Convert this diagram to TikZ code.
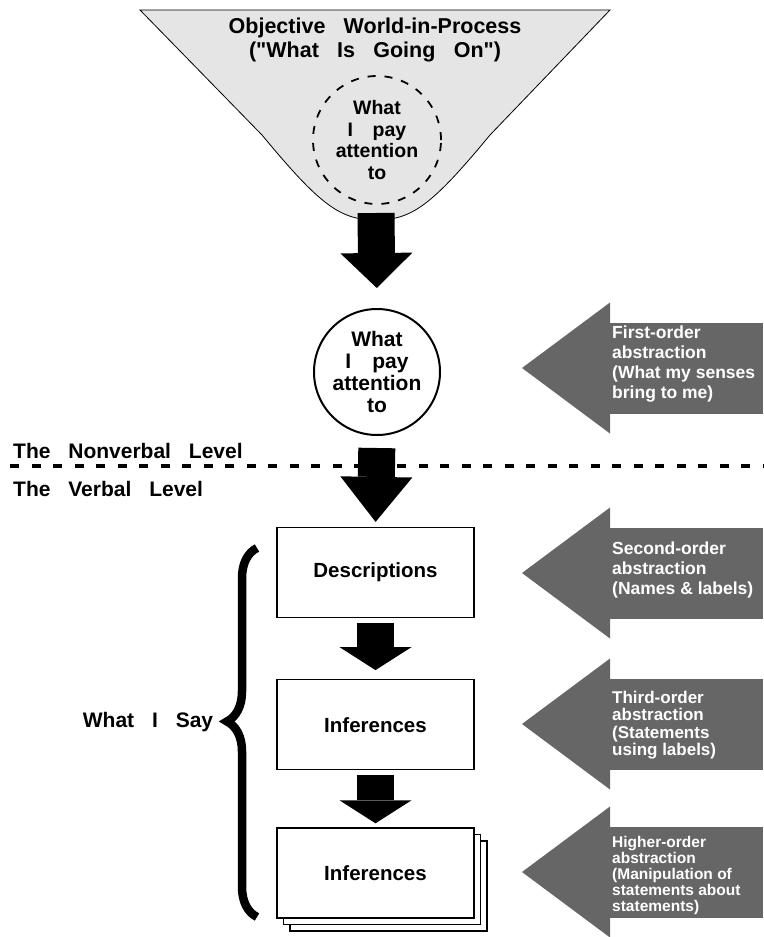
\documentclass[tikz,border=0pt]{standalone}
\usepackage{fontspec}
\setmainfont{Liberation Sans}[Ligatures=TeXOff]
\usepackage{tikz}
\usetikzlibrary{arrows.meta, positioning, calc, shadows, decorations.pathreplacing}
\definecolor{funnelgray}{RGB}{229,229,229}
\definecolor{pointergray}{RGB}{102,102,102}
\newcommand{\wgap}{\hspace{0.85em}}

\begin{document}
\begin{tikzpicture}[
    x=1pt, y=-1pt,
    box/.style={rectangle, draw=black, line width=1.2pt, fill=white,
                minimum width=197pt, minimum height=90pt,
                font=\fontsize{20.5}{24}\selectfont\bfseries},
    bubble/.style={circle, align=center, inner sep=0pt, minimum size=126pt},
    flow/.style={line width=37pt, -{Triangle[length=#1, width=72pt, line width=0pt]}},
    pointer/.style={line width=91pt, draw=pointergray,
                    -{Triangle[length=88pt, width=131pt, line width=0pt]}},
    note/.style={anchor=west, align=left, inner sep=0pt, text=white},
    levelname/.style={anchor=west, inner sep=0pt,
                      font=\fontsize{21}{24}\selectfont\bfseries}
]
\useasboundingbox (0,0) rectangle (763,937);

% funnel of the world
\draw[fill=funnelgray, line width=0.8pt] (140,10) -- (610,10) -- (490,135)
    .. controls (432,205) and (412,220) .. (376,220)
    .. controls (340,220) and (320,205) .. (262,135) -- cycle;
\node[font=\fontsize{21.5}{24}\selectfont\bfseries, align=center] (world) at (375,40)
    {Objective\wgap World-in-Process\\("What\wgap Is\wgap Going\wgap On")};
\node[bubble, draw, dash pattern=on 8pt off 9pt, line width=1.8pt, minimum size=128pt,
      font=\fontsize{19.5}{21.5}\selectfont\bfseries] (focus) at (377,140)
    {What\\I\quad pay\\attention\\to};
\coordinate (funnelbase) at (376,213);

\node[bubble, draw, line width=2pt, font=\fontsize{21}{21.7}\selectfont\bfseries]
    (attn) at (377,372) {What\\I\quad pay\\attention\\to};

% levels
\draw[line width=4.5pt, dash pattern=on 9pt off 12.5pt] (10,466) -- (763,466);
\node[levelname] (nonverbal) at (13,451) {The\wgap Nonverbal\wgap Level};
\node[levelname] (verbal) at (13,489) {The\wgap Verbal\wgap Level};

% what I say
\node[box] (desc) at (375.5,572.5) {Descriptions};
\node[box, below=61pt of desc] (inf) {Inferences};
\node[box, below=57pt of inf,
      double copy shadow={shadow xshift=6.5pt, shadow yshift=-6.5pt}] (stack) {Inferences};

\draw[line width=8.5pt, decorate, decoration={brace, amplitude=30pt, aspect=0.53}]
    (257,917) -- (257,548);
\node[font=\fontsize{21}{24}\selectfont\bfseries] (say) at (148,722) {What\wgap I\wgap Say};

% black flow arrows
\draw[flow=35pt, shorten >=20pt] (funnelbase) -- (attn.north);
\draw[flow=45pt, shorten <=12pt, shorten >=5pt] (attn.south) -- (desc.north);
\draw[flow=23pt, shorten <=5pt, shorten >=9pt] (desc.south) -- (inf.north);
\draw[flow=23pt, shorten <=5pt, shorten >=4pt] (inf.south) -- (stack.north);

% abstraction pointers
\draw[pointer] (763,368) -- (522,368);
\draw[pointer] (763,573) -- (522,573);
\draw[pointer] (763,724) -- (522,724);
\draw[pointer] (763,872) -- (522,872);

\node[note, font=\fontsize{17.5}{20}\selectfont\bfseries] (first) at (612,364)
    {First-order\\abstraction\\(What my senses\\bring to me)};
\node[note, font=\fontsize{17.5}{20}\selectfont\bfseries] (second) at (612,570)
    {Second-order\\abstraction\\(Names \& labels)};
\node[note, font=\fontsize{17}{17.3}\selectfont\bfseries] (third) at (612,725)
    {Third-order\\abstraction\\(Statements\\using labels)};
\node[note, font=\fontsize{15.5}{16}\selectfont\bfseries] (higher) at (612,875)
    {Higher-order\\abstraction\\(Manipulation of\\statements about\\statements)};
\end{tikzpicture}
\end{document}
